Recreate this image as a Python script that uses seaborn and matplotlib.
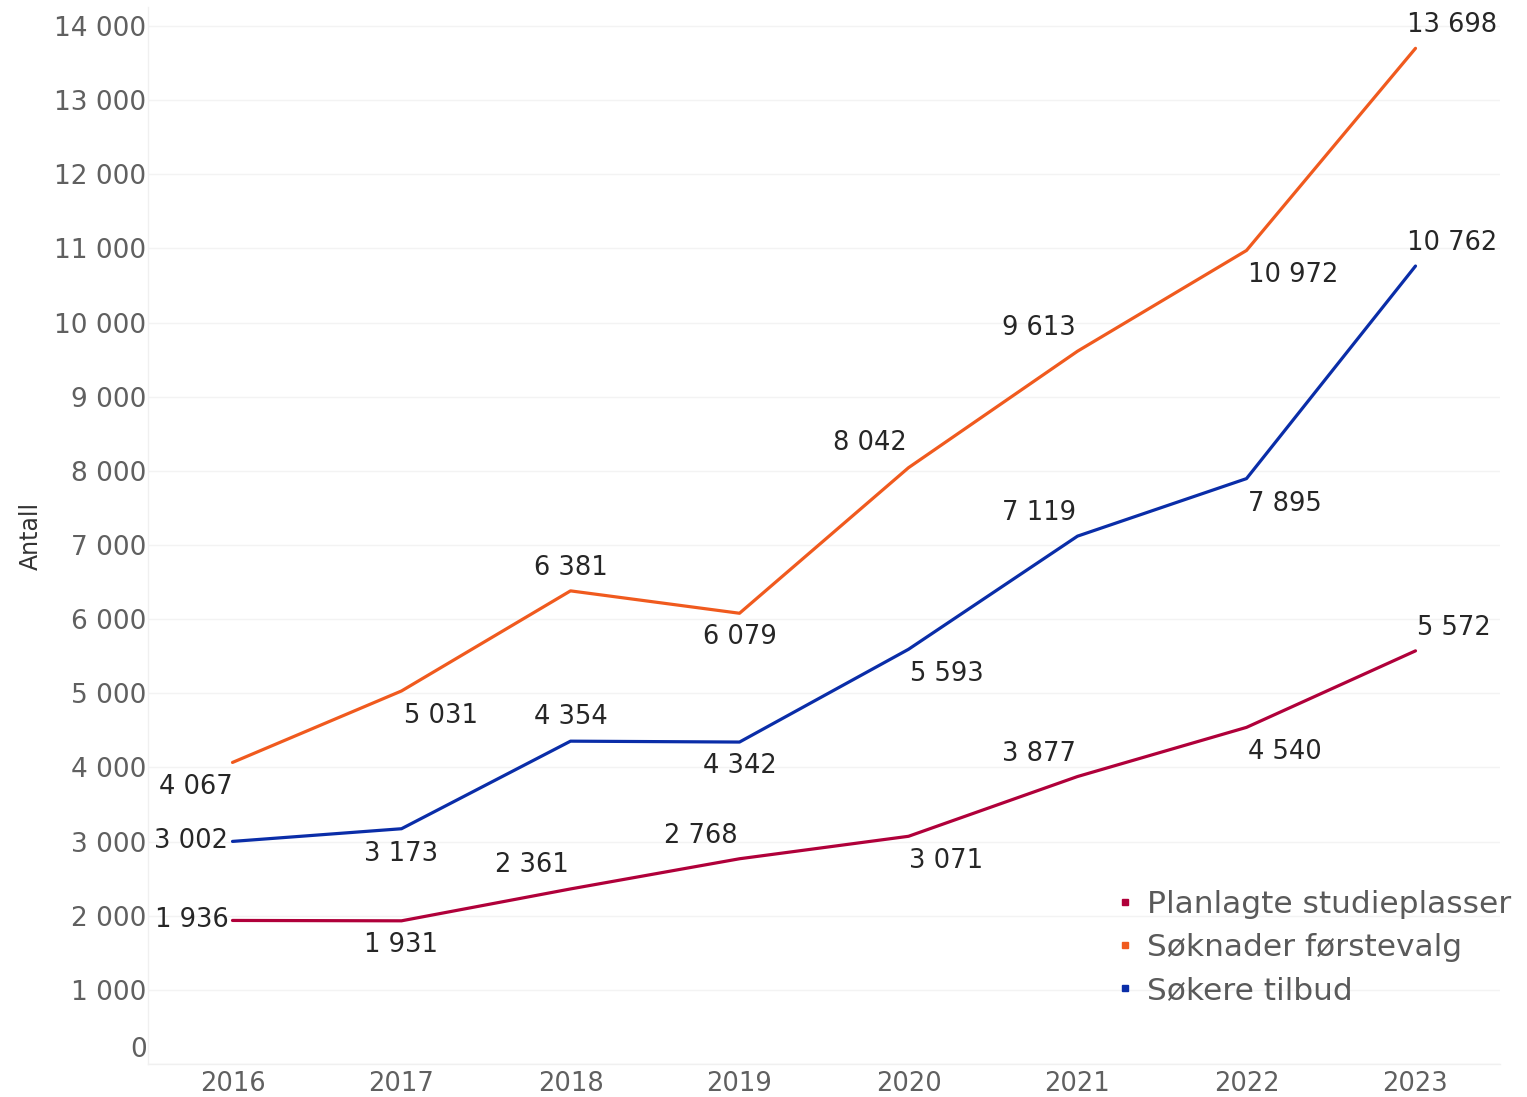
import matplotlib
matplotlib.use("Agg")
import matplotlib.pyplot as plt
import seaborn as sns
import pandas as pd
from matplotlib.lines import Line2D
import matplotlib.transforms as mtransforms

years = [2016, 2017, 2018, 2019, 2020, 2021, 2022, 2023]
planlagte = [1936, 1931, 2361, 2768, 3071, 3877, 4540, 5572]
soknader = [4067, 5031, 6381, 6079, 8042, 9613, 10972, 13698]
sokere = [3002, 3173, 4354, 4342, 5593, 7119, 7895, 10762]
series_names = ["Planlagte studieplasser", "Søknader førstevalg", "Søkere tilbud"]
y_ticks = list(range(0, 14001, 1000))

colors = {"Planlagte studieplasser": "#B0003A",
          "Søknader førstevalg": "#F05A1E",
          "Søkere tilbud": "#0A2DA8"}

# label offsets in pixels (dx, dy, ha)
offs = {
    "Søknader førstevalg": [(-37, -25, 'center'), (39, -25, 'center'), (0, 23, 'center'), (0, -24, 'center'),
                            (-39, 25, 'center'), (-39, 23, 'center'), (47, -25, 'center'), (37, 23, 'center')],
    "Søkere tilbud": [(-4, 0, 'right'), (0, -25, 'center'), (0, 24, 'center'), (0, -24, 'center'),
                      (38, -25, 'center'), (-39, 23, 'center'), (38, -25, 'center'), (37, 23, 'center')],
    "Planlagte studieplasser": [(-4, 0, 'right'), (0, -24, 'center'), (-39, 24, 'center'), (-39, 23, 'center'),
                                (38, -25, 'center'), (-39, 23, 'center'), (38, -25, 'center'), (38, 23, 'center')],
}

sns.set_theme(style="white")
plt.rcParams['font.family'] = ['DejaVu Sans']

df = pd.DataFrame({
    "x": list(range(len(years))) * 3,
    "Antall": planlagte + soknader + sokere,
    "serie": [series_names[0]] * 8 + [series_names[1]] * 8 + [series_names[2]] * 8,
})

fig = plt.figure(figsize=(15.27, 10.97), dpi=100)
ax = fig.add_axes([148/1527, 1 - 1064/1097, (1500-148)/1527, (1064-7.4)/1097])

sns.lineplot(data=df, x="x", y="Antall", hue="serie", hue_order=series_names,
             palette=colors, linewidth=2.3, ax=ax, legend=False)
for l in ax.lines:
    l.set_clip_on(False)

ax.set_xlim(-0.5, 7.5)
ax.set_ylim(0, 14250)
ax.set_yticks(y_ticks)
ax.set_yticklabels([f"{v:,}".replace(",", " ") for v in y_ticks])
ax.set_xticks(range(len(years)))
ax.set_xticklabels([str(y) for y in years])
ax.tick_params(axis='y', labelsize=19, labelcolor='#606060', pad=1, length=0)
ax.tick_params(axis='x', labelsize=18.5, labelcolor='#606060', pad=5, length=0)
ax.set_xlabel("")
ax.set_ylabel("Antall", fontsize=17, color='#333333')
ax.yaxis.set_label_coords(-0.0777, 0.5)
ax.grid(axis='y', color='#f3f3f3', linewidth=1)
for s in ['top', 'right']:
    ax.spines[s].set_visible(False)
for s in ['left', 'bottom']:
    ax.spines[s].set_color('#f0f0f0')
    ax.spines[s].set_linewidth(1)

# move "0" label up
lab0 = ax.get_yticklabels()[0]
lab0.set_transform(lab0.get_transform() + mtransforms.ScaledTranslation(0, 17/100, fig.dpi_scale_trans))

data = {series_names[0]: planlagte, series_names[1]: soknader, series_names[2]: sokere}
for name in series_names:
    for i, v in enumerate(data[name]):
        dx, dy, ha = offs[name][i]
        ax.annotate(f"{v:,}".replace(",", " "), xy=(i, v), xytext=(dx, dy),
                    textcoords='offset pixels', ha=ha, va='center',
                    fontsize=18.5, color='#262626', annotation_clip=False)

handles = [Line2D([0], [0], marker='s', color='none', markerfacecolor=colors[n],
                  markeredgecolor=colors[n], markersize=4.5, linestyle='none') for n in series_names]
leg = fig.legend(handles, series_names, loc='upper left',
                 bbox_to_anchor=(1106/1527, 1 - 884/1097), frameon=False,
                 fontsize=22.5, handletextpad=0.32, labelspacing=0.45, handlelength=0.8,
                 borderpad=0.2, borderaxespad=0)
for t in leg.get_texts():
    t.set_color('#5a5a5a')

fig.savefig("out.png", dpi=100)
